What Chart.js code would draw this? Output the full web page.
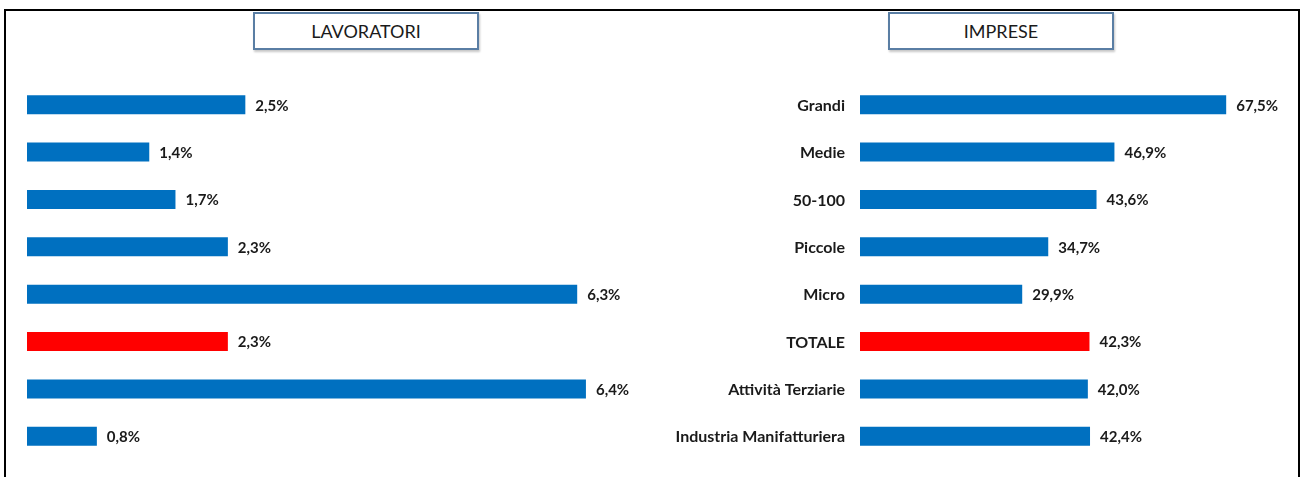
<!DOCTYPE html>
<html>
<head>
<meta charset="utf-8">
<script src="https://cdn.jsdelivr.net/npm/chart.js@4"></script>
<style>
  html, body { margin: 0; padding: 0; background: #fff; }
  body { width: 1301px; height: 477px; position: relative; overflow: hidden; font-family: Lato, "Open Sans", sans-serif; }
  .frame { position: absolute; left: 4px; top: 9px; width: 1292px; height: 480px; border: 2px solid #000; }
  .title {
    position: absolute; top: 12px; height: 34px; width: 222px;
    border: 2px solid #5a7ea4; box-shadow: 1px 2px 2px #c8c8c8;
    text-align: center; line-height: 34px; font-size: 18px; color: #1a1a1a; background: #fff;
  }
  canvas { position: absolute; }
</style>
</head>
<body>
<div class="frame"></div>
<div class="title" style="left:253px">LAVORATORI</div>
<div class="title" style="left:888px">IMPRESE</div>
<div style="position:absolute;left:27px;top:81px;width:655px;height:379px"><canvas id="lav"></canvas></div>
<div style="position:absolute;left:600px;top:81px;width:694px;height:379px"><canvas id="imp"></canvas></div>
<script>
// categorie (uguali per i due grafici, solo le imprese le mostrano)
var categorie = ["Grandi", "Medie", "50-100", "Piccole", "Micro", "TOTALE", "Attività Terziarie", "Industria Manifatturiera"];
var lavoratori = [2.5, 1.4, 1.7, 2.3, 6.3, 2.3, 6.4, 0.8];
var imprese = [67.5, 46.9, 43.6, 34.7, 29.9, 42.3, 42.0, 42.4];

var BLU = '#0070C0';
var ROSSO = '#FF0000';
var colori = categorie.map(function(c) { return c === 'TOTALE' ? ROSSO : BLU; });

var font = 'Lato, "Open Sans", sans-serif';

// etichette dei valori (e delle categorie se richiesto)
function etichette(conCategorie) {
    return {
        id: 'etichette',
        afterDatasetsDraw: function(chart) {
            var ctx = chart.ctx;
            var meta = chart.getDatasetMeta(0);
            var dati = chart.data.datasets[0].data;
            ctx.save();
            ctx.fillStyle = '#1a1a1a';
            ctx.textBaseline = 'middle';
            meta.data.forEach(function(bar, i) {
                var txt = dati[i].toFixed(1).replace('.', ',') + '%';
                ctx.font = 'bold 15px ' + font;
                ctx.textAlign = 'left';
                ctx.fillText(txt, bar.x + 10, bar.y + 1);
                if (conCategorie) {
                    ctx.font = 'bold 16px ' + font;
                    ctx.textAlign = 'right';
                    ctx.fillText(chart.data.labels[i], chart.chartArea.left - 15, bar.y + 1);
                }
            });
            ctx.restore();
        }
    };
}

function opzioni(max, sinistra) {
    return {
        indexAxis: 'y',
        responsive: true,
        maintainAspectRatio: false,
        animation: false,
        layout: { padding: { left: sinistra, right: 0, top: 0, bottom: 0 } },
        plugins: { legend: { display: false }, tooltip: { enabled: false } },
        scales: {
            x: { display: false, min: 0, max: max },
            y: { display: false }
        }
    };
}

new Chart(document.getElementById('lav'), {
    type: 'bar',
    data: {
        labels: categorie,
        datasets: [{
            data: lavoratori,
            backgroundColor: colori,
            barPercentage: 0.8,
            categoryPercentage: 0.5
        }]
    },
    options: opzioni(7.5, 0),
    plugins: [etichette(false)]
});

new Chart(document.getElementById('imp'), {
    type: 'bar',
    data: {
        labels: categorie,
        datasets: [{
            data: imprese,
            backgroundColor: colori,
            barPercentage: 0.8,
            categoryPercentage: 0.5
        }]
    },
    options: opzioni(80, 260),
    plugins: [etichette(true)]
});
</script>
</body>
</html>
